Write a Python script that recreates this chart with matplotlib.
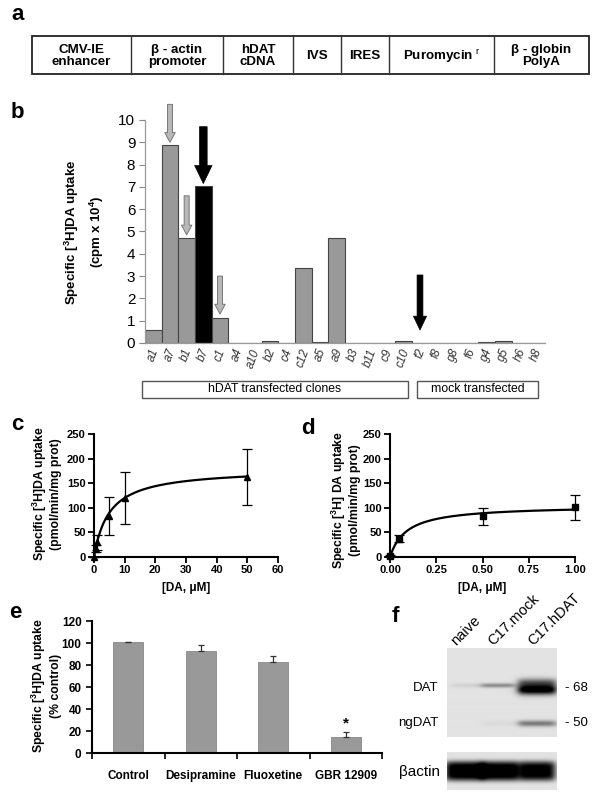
import numpy as np
import matplotlib
matplotlib.use('Agg')
import matplotlib.pyplot as plt
from matplotlib.patches import Rectangle

plt.rcParams['font.family'] = ['Liberation Sans', 'DejaVu Sans']
plt.rcParams['mathtext.fontset'] = 'custom'
plt.rcParams['mathtext.rm'] = 'Liberation Sans'
plt.rcParams['mathtext.bf'] = 'Liberation Sans:bold'
plt.rcParams['mathtext.it'] = 'Liberation Sans:italic'

# ---------------- data ----------------
construct_parts = ["CMV-IE\nenhancer", "β - actin\npromoter", "hDAT\ncDNA", "IVS", "IRES",
                   "Puromycin $^{\\mathrm{r}}$", "β - globin\nPolyA"]

clones = ['a1', 'a7', 'b1', 'b7', 'c1', 'a4', 'a10', 'b2', 'c4', 'c12', 'a5', 'a9',
          'b3', 'b11', 'c9', 'c10', 'f2', 'f8', 'g8', 'f6', 'g4', 'g5', 'h6', 'h8']
clone_uptake = [0.6, 8.9, 4.72, 7.05, 1.1, 0, 0, 0.1, 0, 3.35, 0.05, 4.7,
                0, 0.02, 0, 0.1, 0.02, 0.02, 0, 0, 0.05, 0.1, 0, 0]
highlight_clone = 'b7'
gray_arrow_clones = ['a7', 'b1', 'c1']
gray_arrow_top = [10.7, 6.6, 3.0]
gray_arrow_tip = [9.0, 4.85, 1.3]
black_arrow_clones = ['b7', 'f2']
black_arrow_top = [9.7, 3.05]
black_arrow_tip = [7.15, 0.58]
group_labels = ['hDAT transfected clones', 'mock transfected']

c_conc = [0, 0.5, 1, 5, 10, 50]
c_uptake = [0, 17, 30, 83, 120, 162]
c_err = [0, 7, 15, 38, 53, 57]
c_vmax, c_km = 180.0, 5.0

d_conc = [0, 0.05, 0.5, 1.0]
d_uptake = [2, 37, 83, 101]
d_err = [2, 7, 17, 25]
d_vmax, d_km = 105.0, 0.09

e_cats = ['Control', 'Desipramine', 'Fluoxetine', 'GBR 12909']
e_vals = [100.5, 92.5, 82.5, 15]
e_err = [0.4, 5.5, 6, 4.5]
e_signif = [False, False, False, True]

lanes = ['naive', 'C17.mock', 'C17.hDAT']
dat_band = [0.07, 0.35, 1.0]
ngdat_band = [0.0, 0.03, 0.42]
actin_band = [1.0, 1.0, 0.95]
mw_markers = ['- 68', '- 50']

# ---------------- figure ----------------
W, H = 600, 801
fig = plt.figure(figsize=(W / 100, H / 100), dpi=100)

def ax_px(l, t, r, b):
    return fig.add_axes([l / W, 1 - b / H, (r - l) / W, (b - t) / H])

ov = fig.add_axes([0, 0, 1, 1], zorder=5)
ov.set_xlim(0, W)
ov.set_ylim(H, 0)
ov.axis('off')
ov.patch.set_alpha(0)

def plabel(x, y, s):
    ov.text(x, y, s, fontsize=16, fontweight='bold', ha='center', va='center')

# ---------------- panel a ----------------
plabel(18, 15, 'a')
box_l, box_r, box_t, box_b = 32, 589, 36, 74
edges = [box_l, 131, 223, 293, 341, 389, 494, box_r]
ov.add_patch(Rectangle((box_l, box_t), box_r - box_l, box_b - box_t, fill=False,
                       ec='#222222', lw=1.3))
for i, part in enumerate(construct_parts):
    if i > 0:
        ov.plot([edges[i], edges[i]], [box_t, box_b], color='#333333', lw=1)
    ov.text((edges[i] + edges[i + 1]) / 2, (box_t + box_b) / 2 + 1, part, ha='center',
            va='center', fontsize=9.6, fontweight='bold', linespacing=1.1)

# ---------------- panel b ----------------
plabel(17, 113, 'b')
axb = ax_px(145, 120, 545, 343)
xb = np.arange(len(clones))
colors = ['black' if c == highlight_clone else '#999999' for c in clones]
axb.bar(xb, clone_uptake, width=1.0, color=colors, edgecolor='#444444', linewidth=0.8)
axb.set_xlim(-0.5, len(clones) - 0.5)
axb.set_ylim(0, 10)
axb.set_yticks(range(0, 11))
axb.tick_params(axis='y', labelsize=11, length=4, color='#888888', width=0.8, pad=3)
axb.set_xticks(xb)
axb.set_xticklabels(clones, rotation=70, fontstyle='italic', fontsize=8.5, color='#333333')
axb.tick_params(axis='x', length=0, pad=3)
for s in ['top', 'right']:
    axb.spines[s].set_visible(False)
for s in ['left', 'bottom']:
    axb.spines[s].set_color('#999999')
    axb.spines[s].set_linewidth(0.9)
for c, t0, t1 in zip(gray_arrow_clones, gray_arrow_top, gray_arrow_tip):
    i = clones.index(c)
    axb.annotate('', xy=(i, t1), xytext=(i, t0), annotation_clip=False,
                 arrowprops=dict(arrowstyle='simple,head_width=0.75,head_length=0.7,tail_width=0.36',
                                 fc='#b8b8b8', ec='#777777', lw=0.7, shrinkA=0, shrinkB=0,
                                 mutation_scale=10))
for c, t0, t1 in zip(black_arrow_clones, black_arrow_top, black_arrow_tip):
    i = clones.index(c)
    hw = 1.25 if c == 'b7' else 0.95
    tw = 0.55 if c == 'b7' else 0.42
    hl = 1.3 if c == 'b7' else 1.0
    axb.annotate('', xy=(i, t1), xytext=(i, t0), annotation_clip=False,
                 arrowprops=dict(arrowstyle=f'simple,head_width={hw},head_length={hl},tail_width={tw}',
                                 fc='black', ec='black', lw=0.5, shrinkA=0, shrinkB=0,
                                 mutation_scale=10))
ov.text(84, 232, 'Specific [$^{\\mathbf{3}}$H]DA uptake\n(cpm x 10$^{\\mathbf{4}}$)', rotation=90,
        ha='center', va='center', fontsize=9.5, fontweight='bold', multialignment='center',
        linespacing=1.5)
ov.add_patch(Rectangle((142, 381), 408 - 142, 17, fill=False, ec='#555555', lw=1))
ov.add_patch(Rectangle((417, 381), 538 - 417, 17, fill=False, ec='#555555', lw=1))
ov.text((142 + 408) / 2, 389.5, group_labels[0], ha='center', va='center', fontsize=8.8)
ov.text((417 + 538) / 2, 389.5, group_labels[1], ha='center', va='center', fontsize=8.8)

# ---------------- panel c / d helpers ----------------
def style_kin(ax):
    for s in ['top', 'right']:
        ax.spines[s].set_visible(False)
    for s in ['left', 'bottom']:
        ax.spines[s].set_linewidth(1.5)
    ax.tick_params(length=4, width=1.3, labelsize=8, pad=2)
    for lab in ax.get_xticklabels() + ax.get_yticklabels():
        lab.set_fontweight('bold')

plabel(17, 425, 'c')
axc = ax_px(94, 434, 278, 557)
xc = np.linspace(0, 50, 300)
axc.plot(xc, c_vmax * xc / (c_km + xc), color='black', lw=1.6)
axc.errorbar(c_conc, c_uptake, yerr=c_err, fmt='^', color='black', ms=4.5, capsize=3.5,
             elinewidth=0.9, capthick=0.9, clip_on=False)
axc.set_xlim(0, 60)
axc.set_ylim(0, 250)
axc.set_xticks(range(0, 61, 10))
axc.set_yticks(range(0, 251, 50))
style_kin(axc)
ov.text(186, 588, '[DA, μM]', ha='center', va='center', fontsize=8.5, fontweight='bold')
ov.text(46, 494, 'Specific [$^{\\mathbf{3}}$H]DA uptake\n(pmol/min/mg prot)', rotation=90,
        ha='center', va='center', fontsize=8.8, fontweight='bold', multialignment='center',
        linespacing=1.1)

plabel(308, 428, 'd')
axd = ax_px(390, 434, 575, 557)
xd = np.linspace(0, 1.0, 300)
axd.plot(xd, d_vmax * xd / (d_km + xd), color='black', lw=1.6)
axd.errorbar(d_conc, d_uptake, yerr=d_err, fmt='s', color='black', ms=4.5, capsize=3.5,
             elinewidth=0.9, capthick=0.9, clip_on=False)
axd.set_xlim(0, 1.0)
axd.set_ylim(0, 250)
axd.set_xticks([0, 0.25, 0.5, 0.75, 1.0])
axd.set_xticklabels(['0.00', '0.25', '0.50', '0.75', '1.00'])
axd.set_yticks(range(0, 251, 50))
style_kin(axd)
ov.text(482, 588, '[DA, μM]', ha='center', va='center', fontsize=8.5, fontweight='bold')
ov.text(345, 500, 'Specific [$^{\\mathbf{3}}$H] DA uptake\n(pmol/min/mg prot)', rotation=90,
        ha='center', va='center', fontsize=8.8, fontweight='bold', multialignment='center',
        linespacing=1.1)

# ---------------- panel e ----------------
plabel(15, 613, 'e')
axe = ax_px(92, 621, 382, 753)
xe = np.arange(len(e_cats))
axe.bar(xe, e_vals, width=0.41, color='#999999', edgecolor='#888888', linewidth=0.6)
axe.errorbar(xe, e_vals, yerr=[np.zeros(len(e_vals)), e_err], fmt='none', ecolor='#333333',
             capsize=2.5, elinewidth=0.9, capthick=0.9)
for i, (v, e, s) in enumerate(zip(e_vals, e_err, e_signif)):
    if s:
        axe.text(i, v + e + 1, '*', ha='center', va='bottom', fontsize=11, fontweight='bold')
axe.set_xlim(-0.5, len(e_cats) - 0.5)
axe.set_ylim(0, 120)
axe.set_yticks(range(0, 121, 20))
axe.set_xticks(np.arange(-0.5, len(e_cats), 1.0))
axe.set_xticklabels([])
axe.set_xticks(xe, minor=True)
axe.set_xticklabels(e_cats, minor=True)
axe.tick_params(axis='x', which='minor', length=0, pad=12, labelsize=8.5)
axe.tick_params(axis='x', which='major', length=4, width=1.2)
axe.tick_params(axis='y', length=4, width=1.2, labelsize=8.5)
for s in ['top', 'right']:
    axe.spines[s].set_visible(False)
for s in ['left', 'bottom']:
    axe.spines[s].set_linewidth(1.5)
for lab in axe.get_xticklabels(minor=True) + axe.get_yticklabels():
    lab.set_fontweight('bold')
ov.text(46, 686, 'Specific [$^{\\mathbf{3}}$H]DA uptake\n(% control)', rotation=90,
        ha='center', va='center', fontsize=8.8, fontweight='bold', multialignment='center',
        linespacing=1.2)

# ---------------- panel f ----------------
plabel(395, 617, 'f')
lane_cx = [0.17, 0.46, 0.82]
lane_hw = [0.13, 0.15, 0.17]

def lane_profile(x, cx, hw):
    return 1.0 / (1 + np.exp((np.abs(x - cx) - hw) / 0.02))

ny, nx = 180, 220
yy, xx = np.mgrid[0:1:ny * 1j, 0:1:nx * 1j]
blot = np.full((ny, nx), 0.11)
for i in range(len(lanes)):
    lp = lane_profile(xx, lane_cx[i], lane_hw[i])
    if i == 2:
        blot += dat_band[i] * lp * (np.exp(-((yy - 0.47) / 0.055) ** 2) +
                                    0.5 * np.exp(-((yy - 0.39) / 0.05) ** 2))
    else:
        blot += dat_band[i] * lp * np.exp(-((yy - 0.42) / 0.025) ** 2)
    blot += ngdat_band[i] * lp * np.exp(-((yy - 0.85) / 0.035) ** 2)
blot = np.clip(blot, 0, 1)
axf1 = ax_px(447, 648, 557, 737)
axf1.imshow(blot, cmap='gray_r', vmin=0, vmax=1, aspect='auto', extent=[0, 1, 1, 0])
axf1.axis('off')

ny2 = 80
yy2, xx2 = np.mgrid[0:1:ny2 * 1j, 0:1:nx * 1j]
act = np.full((ny2, nx), 0.11)
act_cx = [0.16, 0.48, 0.82]
act_hw = [0.17, 0.17, 0.16]
for i in range(len(lanes)):
    lp = lane_profile(xx2, act_cx[i], act_hw[i])
    act += actin_band[i] * lp * np.exp(-((yy2 - 0.5) / 0.26) ** 4)
act = np.clip(act, 0, 1)
axf2 = ax_px(447, 752, 557, 790)
axf2.imshow(act, cmap='gray_r', vmin=0, vmax=1, aspect='auto', extent=[0, 1, 1, 0])
axf2.axis('off')

lane_anchor_x = [458, 495, 535]
for name, x in zip(lanes, lane_anchor_x):
    ov.text(x, 648, name, rotation=45, rotation_mode='anchor', ha='left', va='bottom',
            fontsize=10.5)
ov.text(438, 688, 'DAT', ha='right', va='center', fontsize=9.5)
ov.text(438, 723, 'ngDAT', ha='right', va='center', fontsize=9.5)
ov.text(565, 688, mw_markers[0], ha='left', va='center', fontsize=9.5)
ov.text(565, 723, mw_markers[1], ha='left', va='center', fontsize=9.5)
ov.text(440, 772, 'βactin', ha='right', va='center', fontsize=11)

fig.savefig('out.png', dpi=100)
